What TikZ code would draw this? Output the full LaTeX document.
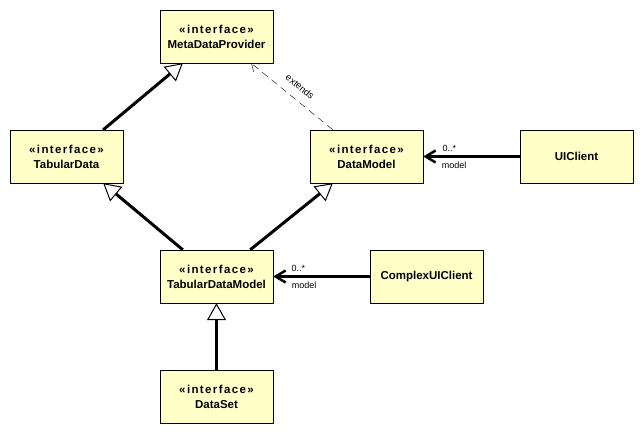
\documentclass[tikz,border=0pt]{standalone}
\usepackage{fontspec}
\setmainfont{Liberation Sans}
\usepackage{tikz}
\usetikzlibrary{positioning, arrows.meta}
\definecolor{classyellow}{RGB}{255,255,200}

\begin{document}
\begin{tikzpicture}[x=1pt, y=-1pt,
    iface/.style={draw, fill=classyellow, minimum width=113pt, minimum height=53pt,
                  inner sep=0pt, align=center, font=\fontsize{11.5}{15}\selectfont\bfseries},
    gen/.style={line width=3pt, -{Triangle[open, length=17pt, width=19pt, line width=1pt]}},
    assoc/.style={line width=2.5pt, -{Straight Barb[length=10pt, width=12pt]}},
    role/.style={font=\fontsize{9}{10}\selectfont, inner sep=1pt}]
    \useasboundingbox (0,0) rectangle (644,434);

    % Interfaces
    \foreach \n/\x/\y/\t in {meta/216.5/36.5/MetaDataProvider, tab/66.5/156.5/TabularData,
        dm/366.5/156.5/DataModel, tdm/216.5/276.5/TabularDataModel, ds/216.5/396.5/DataSet} {
        \node[iface] (\n) at (\x,\y) {{\addfontfeature{LetterSpace=12}«interface»}\\\t};
    }

    % Clients
    \node[iface] (ui) at (576.5,156.5) {UIClient};
    \node[iface] (cui) at (426.5,276.5) {ComplexUIClient};

    % Generalizations
    \draw[gen] ([xshift=-20pt]tab.north east) -- ([xshift=23pt]meta.south west);
    \draw[gen] ([xshift=23pt]tdm.north west) -- ([xshift=-20pt]tab.south east);
    \draw[gen] ([xshift=-23pt]tdm.north east) -- ([xshift=23pt]dm.south west);
    \draw[gen] (ds.north) -- (tdm.south);

    % Dependency
    \draw[thin, dash pattern=on 7pt off 5pt, -{Straight Barb[length=7pt, width=10pt]}]
        ([xshift=23pt]dm.north west) -- ([xshift=-22pt]meta.south east)
        node[midway, sloped, above=9pt, inner sep=0pt, font=\fontsize{9.5}{10}\selectfont] {extends};

    % Associations
    \draw[assoc] (ui.west) -- (dm.east)
        node[role, pos=0.73, above=3pt] {0..*}
        node[role, pos=0.68, below=3pt] {model};
    \draw[assoc] (cui.west) -- (tdm.east)
        node[role, pos=0.74, above=3pt] {0..*}
        node[role, pos=0.68, below=3pt] {model};
\end{tikzpicture}
\end{document}
